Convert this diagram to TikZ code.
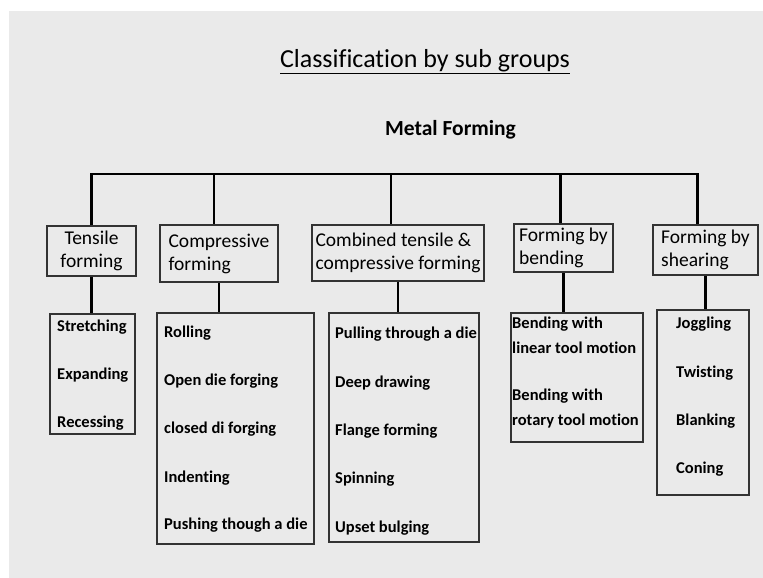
\documentclass[tikz,border=0pt]{standalone}
\usepackage{fontspec}
\setmainfont{Carlito}[Ligatures=NoCommon]
\usetikzlibrary{positioning}
\definecolor{slidegrey}{HTML}{EAEAEA}
\definecolor{boxline}{HTML}{333333}

\begin{document}
\begin{tikzpicture}[x=1pt, y=-1pt,
    every node/.style={inner sep=0pt},
    head/.style={rectangle, draw=boxline, line width=1.8pt, align=left, font=\fontsize{19.5}{23}\selectfont},
    list/.style={rectangle, draw=boxline, line width=1.8pt, anchor=north west},
    item/.style={anchor=base west, font=\fontsize{16.5}{25}\selectfont\bfseries},
    conn/.style={line width=2.6pt, black}]

  % slide background
  \useasboundingbox (0,0) rectangle (763,578);
  \fill[white] (0,0) rectangle (763,578);
  \fill[slidegrey] (9,11) rectangle (763,578);

  \node[anchor=base, font=\fontsize{26}{30}\selectfont] (title) at (425,67) {\underline{Classification by sub groups}};
  \node[anchor=base, font=\fontsize{21.5}{25}\selectfont\bfseries] (root) at (450.5,135) {Metal Forming};

  % sub groups
  \node[head, align=center, minimum width=89pt, minimum height=50pt] (tens) at (91.5,251) {Tensile\\forming};
  \node[head, minimum width=118pt, minimum height=57pt] (comp) at (219,253.5) {Compressive\\forming};
  \node[head, minimum width=172pt, minimum height=56pt] (comb) at (398,253) {Combined tensile \&\\compressive forming};
  \node[head, minimum width=99pt, minimum height=48pt] (bend) at (563.5,248) {Forming by\\bending};
  \node[head, minimum width=105pt, minimum height=50pt] (shear) at (705.5,250) {Forming by\\shearing};

  % process lists
  \node[list, minimum width=85pt, minimum height=120pt] (tensl) at (49,313) {};
  \node[list, minimum width=157pt, minimum height=231pt] (compl) at (156,312) {};
  \node[list, minimum width=150pt, minimum height=229pt] (combl) at (328,312) {};
  \node[list, minimum width=132pt, minimum height=129pt] (bendl) at (510,312) {};
  \node[list, minimum width=92pt, minimum height=185pt] (shearl) at (656,309) {};

  \node[item] (stretch) at (57,331) {Stretching};
  \node[item] (expand) at (57,379) {Expanding};
  \node[item] (recess) at (57,427) {Recessing};

  \node[item] (roll) at (164,337) {Rolling};
  \node[item] (opendie) at (164,385) {Open die forging};
  \node[item] (closeddie) at (164,433) {closed di forging};
  \node[item] (indent) at (164,482) {Indenting};
  \node[item] (push) at (164,529) {Pushing though a die};

  \node[item] (pull) at (335,338) {Pulling through a die};
  \node[item] (deep) at (335,387) {Deep drawing};
  \node[item] (flange) at (335,435) {Flange forming};
  \node[item] (spin) at (335,483) {Spinning};
  \node[item] (upset) at (335,532) {Upset bulging};

  % base of a two-line node is its last line
  \node[item, align=left] (linear) at (512,353) {Bending with\\linear tool motion};
  \node[item, align=left] (rotary) at (512,425) {Bending with\\rotary tool motion};

  \node[item] (jog) at (676,328) {Joggling};
  \node[item] (twist) at (676,377) {Twisting};
  \node[item] (blank) at (676,425) {Blanking};
  \node[item] (cone) at (676,473) {Coning};

  % tree lines
  \coordinate (bus) at (0,174);
  \coordinate (dcomp) at ([xshift=-5pt]comp.north);
  \coordinate (dcomb) at ([xshift=-7pt]comb.north);
  \coordinate (dbend) at ([xshift=-3pt]bend.north);
  \coordinate (dshear) at ([xshift=-8pt]shear.north);
  \draw[conn] (tens.north) -- (tens.north |- bus) -- (dshear |- bus) -- (dshear);
  \draw[conn] (dcomp |- bus) -- (dcomp);
  \draw[conn] (dcomb |- bus) -- (dcomb);
  \draw[conn] (dbend |- bus) -- (dbend);

  \draw[conn] (tens.south) -- (tens.south |- tensl.north);
  \draw[conn] (comp.south) -- (comp.south |- compl.north);
  \draw[conn] (comb.south) -- (comb.south |- combl.north);
  \draw[conn] (bend.south) -- (bend.south |- bendl.north);
  \draw[conn] (shear.south) -- (shear.south |- shearl.north);
\end{tikzpicture}
\end{document}
